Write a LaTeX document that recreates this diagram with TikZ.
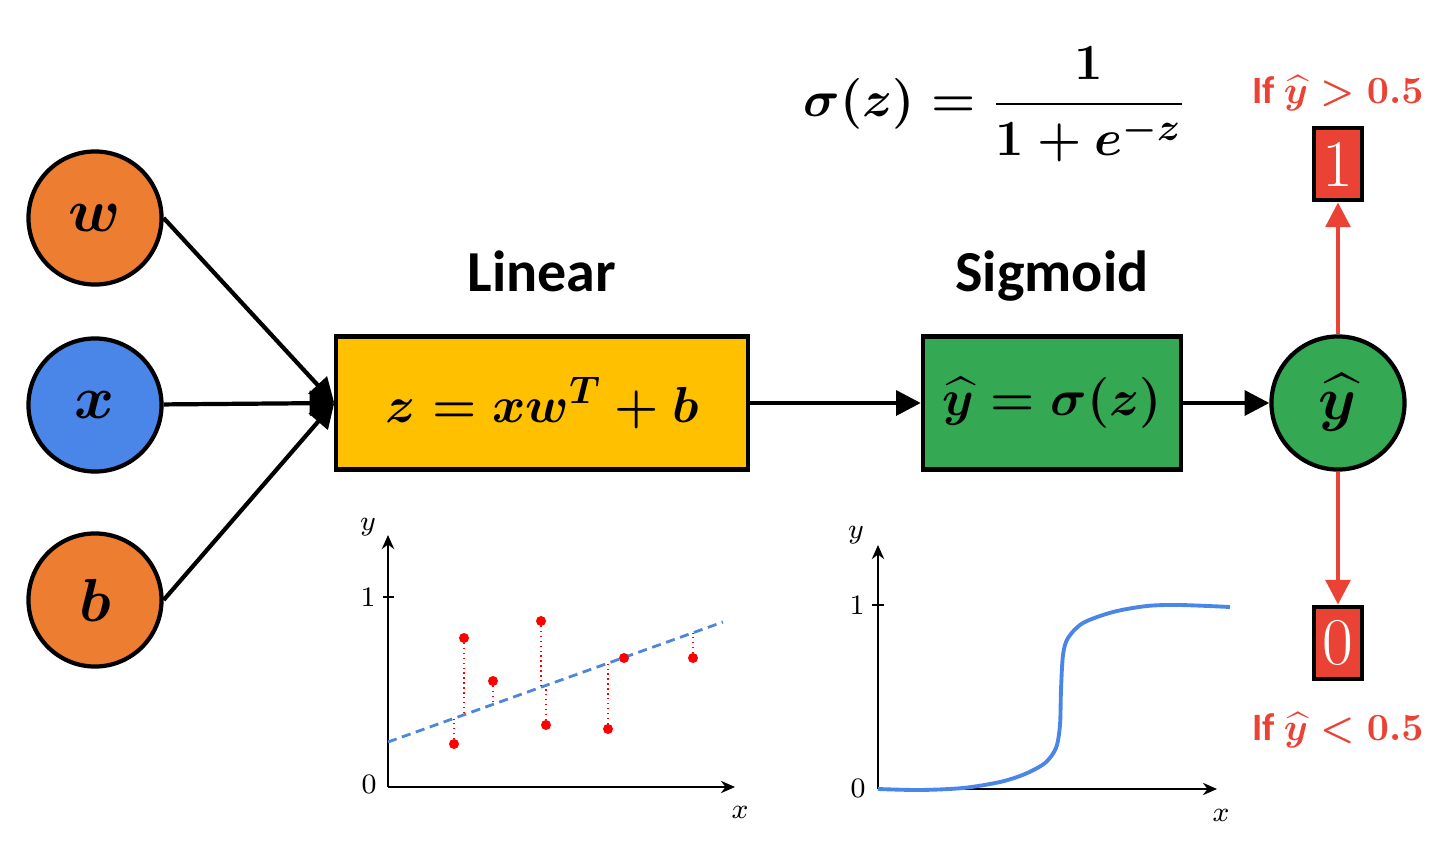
\documentclass[tikz,border=0pt]{standalone}
\usepackage[no-math]{fontspec}
\newfontfamily\calib{Carlito}
\usepackage{amsmath}
\usepackage{amssymb}
\usepackage{bm}
\usetikzlibrary{arrows.meta, positioning}
\definecolor{inorange}{HTML}{ED7D31}
\definecolor{inblue}{HTML}{4A86E8}
\definecolor{linyellow}{HTML}{FFC000}
\definecolor{siggreen}{HTML}{34A853}
\definecolor{outred}{HTML}{EA4335}
\definecolor{fitblue}{HTML}{4F86DC}
\tikzset{
    neuron/.style={
        circle, draw, line width=1.2pt,
        inner sep=0pt,
        minimum size=1.33cm,
        font=\fontsize{18}{20}\selectfont\boldmath
    },
    block/.style={
        rectangle, draw, line width=1.2pt,
        minimum height=1.33cm, inner sep=2pt,
        font=\fontsize{15}{18}\selectfont\boldmath
    },
    outbox/.style={
        rectangle, draw, line width=1.4pt, fill=outred,
        minimum width=0.48cm, minimum height=0.72cm, inner sep=0pt,
        text=white, font=\fontsize{19}{20}\selectfont
    },
    title/.style={font=\calib\bfseries\fontsize{16.5}{18}\selectfont,
        text height=0.75em, text depth=0.22em, inner sep=0pt},
    rule/.style={text=outred, font=\calib\bfseries\fontsize{11}{13}\selectfont\boldmath,
        inner sep=0pt},
    conn/.style={line width=1.2pt, -{Triangle[length=7pt, width=7pt]}},
    redconn/.style={conn, draw=outred, fill=outred},
    axis/.style={line width=0.6pt, -{Stealth[length=4pt, width=3.5pt]}},
    tick/.style={font=\fontsize{8}{9}\selectfont},
    fit line/.style={fitblue, line width=0.8pt, dash pattern=on 2.6pt off 1.6pt},
    resid/.style={red, line width=0.4pt, densely dotted},
    pt/.style={fill=red, draw=none},
}
\begin{document}
\begin{tikzpicture}[x=0.01cm, y=-0.01cm]
    \useasboundingbox (0,0) rectangle (1456,851);

    % inputs
    \node[neuron, fill=inblue] (x) at (95,405) {$x$};
    \node[neuron, fill=inorange] (w) at (95,218) {$w$};
    \node[neuron, fill=inorange] (b) at (95,600) {$b$};

    % linear and sigmoid blocks
    \node[block, fill=linyellow, minimum width=4.11cm] (lin) at (542,403) {$z = xw^{T} + b$};
    \node[block, fill=siggreen, minimum width=2.58cm] (sig) at (1052,403) {$\widehat{y} = \sigma(z)$};
    \node[neuron, fill=siggreen] (yh) at (1338,403) {$\widehat{y}$};
    \node[title, above=3.4mm of lin] (lintitle) {Linear};
    \node[title, above=3.4mm of sig] (sigtitle) {Sigmoid};

    \node[font=\fontsize{15}{18}\selectfont\boldmath] (sigma) at (995,104)
        {$\displaystyle \sigma(z) = \frac{1}{1+e^{-z}}$};

    % outputs
    \node[outbox] (one) at (1338,164) {1};
    \node[outbox] (zero) at (1338,643) {0};
    \node[rule, above=2.2mm of one.north, anchor=base] (ifgt) {If $\widehat{y} > 0.5$};
    \node[rule, below=3mm of zero] (iflt) {If $\widehat{y} < 0.5$};

    \foreach \i/\j in {w.east/lin.west, x/lin.west, b.east/lin.west, lin/sig, sig/yh}
        \draw[conn] (\i) -- (\j);
    \draw[redconn] (yh) -- (one);
    \draw[redconn] (yh) -- (zero);

    % linear regression sketch
    \coordinate (o1) at (388,787);
    \draw[axis] (o1) -- (388,535);
    \draw[axis] (o1) -- (735,787);
    \draw[line width=0.6pt] (383,597) -- (394,597);
    \node[tick] (l1y) at (368,527) {$y$};
    \node[tick] (l1x) at (740,812) {$x$};
    \node[tick] (l11) at (368,597) {1};
    \node[tick] (l10) at (369,784) {0};
    \draw[fit line] (388,742) -- (723,622);
    \foreach \px/\py/\ly in {454/744/719, 464/638/713, 493/681/701, 541/621/686,
                             546/725/686, 608/729/664, 693/658/633}
        \draw[resid] (\px,\py) -- (\px,\ly);
    \foreach \px/\py in {454/744, 464/638, 493/681, 541/621, 546/725, 608/729, 624/658, 693/658}
        \fill[pt] (\px,\py) circle (5);

    % sigmoid sketch
    \coordinate (o2) at (878,789);
    \draw[axis] (o2) -- (878,545);
    \draw[axis] (o2) -- (1217,789);
    \draw[line width=0.6pt] (872,605) -- (884,605);
    \node[tick] (s1y) at (856,535) {$y$};
    \node[tick] (s1x) at (1221,815) {$x$};
    \node[tick] (s11) at (857,605) {1};
    \node[tick] (s10) at (858,788) {0};
    \draw[inblue, line width=1.1pt] plot[smooth, tension=0.5] coordinates {
        (878,789) (920,790) (963,788) (1000,782) (1025,774) (1045,763) (1056,748)
        (1060,725) (1061,690) (1063,655) (1068,638) (1083,623) (1113,612)
        (1147,606) (1180,605) (1230,607)};
\end{tikzpicture}
\end{document}
